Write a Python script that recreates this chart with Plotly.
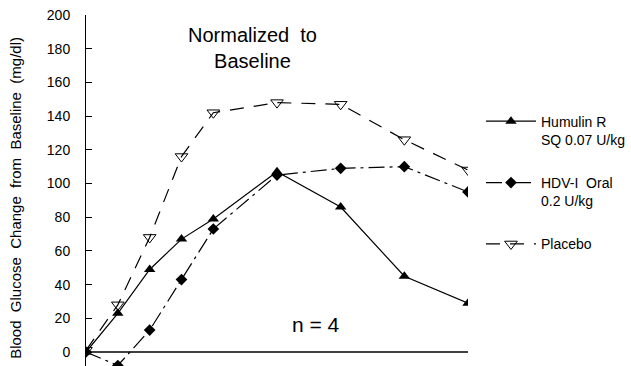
import plotly.graph_objects as go

# Data (time in minutes; x tick labels are not shown in the reference)
time_min = [0, 15, 30, 45, 60, 90, 120, 150, 180]
humulin = [0, 23, 49, 67, 79, 107, 86, 45, 29]
hdv_oral = [0, -8, 13, 43, 73, 105, 109, 110, 95]
placebo = [1, 28, 68, 116, 142, 148, 147, 126, 108]
y_ticks = [0, 20, 40, 60, 80, 100, 120, 140, 160, 180, 200]

names = ["Humulin R<br>SQ 0.07 U/kg", "HDV-I  Oral<br>0.2 U/kg", "Placebo"]

FONT = "Liberation Sans, Arial, sans-serif"

fig = go.Figure()
fig.add_trace(go.Scatter(
    x=time_min, y=humulin, name=names[0], mode="lines+markers", legendgroup="a",
    line=dict(color="black", width=1.2),
    marker=dict(symbol="triangle-up", size=10, color="black"),
))
fig.add_trace(go.Scatter(
    x=time_min, y=hdv_oral, name=names[1], mode="lines+markers", legendgroup="b",
    line=dict(color="black", width=1.2, dash="16px,5px,3px,5px"),
    marker=dict(symbol="diamond", size=9, color="black"),
))
fig.add_trace(go.Scatter(
    x=time_min, y=placebo, name=names[2], mode="lines+markers", legendgroup="c",
    line=dict(color="black", width=1.2, dash="14px,10px"),
    marker=dict(symbol="triangle-down-open", size=11, color="black", line=dict(width=1)),
))

fig.update_layout(
    width=631, height=366,
    margin=dict(l=86, r=161, t=15, b=0),
    paper_bgcolor="white", plot_bgcolor="white",
    font=dict(family=FONT, color="black", size=14),
    showlegend=True,
    legend=dict(
        x=1.034, y=0.742, xanchor="left", yanchor="top",
        font=dict(size=14, family=FONT), valign="top",
        itemwidth=50, tracegroupgap=22, bgcolor="rgba(0,0,0,0)",
    ),
    xaxis=dict(range=[0, 180], visible=False, showgrid=False, zeroline=False),
    yaxis=dict(
        range=[-8.3, 200], tickvals=y_ticks, ticks="inside", ticklen=6,
        tickcolor="black", showline=True, linecolor="black", linewidth=1,
        showgrid=False, zeroline=True, zerolinecolor="#404040", zerolinewidth=1.5,
        tickfont=dict(size=14, family=FONT), ticklabelstandoff=12,
    ),
    annotations=[
        dict(text="Normalized  to<br>Baseline", xref="paper", yref="paper",
             x=0.435, y=0.98, xanchor="center", yanchor="top", showarrow=False,
             font=dict(size=20, family=FONT)),
        dict(text="n = 4", xref="paper", yref="paper", x=0.602, y=0.117,
             xanchor="center", yanchor="middle", showarrow=False,
             font=dict(size=21, family=FONT)),
        dict(text="Blood  Glucose  Change  from  Baseline  (mg/dl)", xref="paper",
             yref="paper", x=-0.185, y=0.48, xanchor="center", yanchor="middle",
             textangle=-90, showarrow=False, font=dict(size=15, family=FONT)),
    ],
)

fig.write_html("out.html")
